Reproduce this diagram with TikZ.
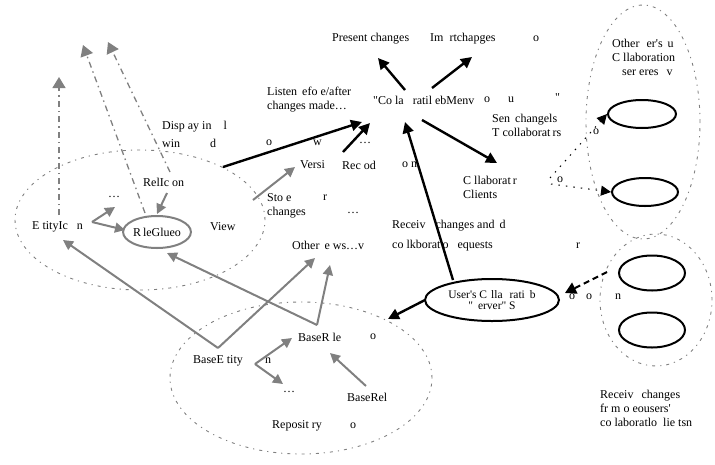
\documentclass[tikz,border=0pt]{standalone}
\usepackage{fontspec}
\setmainfont{Liberation Serif}[Ligatures=TeXOff]
\usetikzlibrary{arrows.meta,shapes.geometric}
\newcommand{\sq}{\symbol{34}}

\begin{document}
\begin{tikzpicture}[x=1pt,y=-1pt,
  lbl/.style={anchor=west, inner sep=0pt, font=\fontsize{12}{13}\selectfont},
  mlbl/.style={lbl, align=left, font=\fontsize{12}{14}\selectfont},
  blk/.style={black, line width=2.4pt, -{Triangle[length=11pt,width=11pt]}},
  gry/.style={draw=gray, line width=2pt, -{Triangle[length=10pt,width=10pt]}, gray},
  grpoval/.style={ellipse, draw=gray, line width=0.9pt, inner sep=0pt,
    dash pattern=on 3pt off 5pt on 1.2pt off 5pt},
  uparrow/.style={gray, line width=1.3pt, dash pattern=on 6pt off 4pt on 1.5pt off 4pt,
    -{Triangle[length=11pt,width=13pt]}},
  ring/.style={ellipse, draw=black, line width=2pt, inner sep=0pt},
  gring/.style={ellipse, draw=gray, line width=2pt, inner sep=0pt},
  dotarr/.style={black, line width=1pt, dash pattern=on 1.5pt off 6pt,
    -{Triangle[length=10pt,width=10pt]}},
  dasharr/.style={black, line width=2pt, dash pattern=on 6pt off 4pt,
    -{Triangle[length=11pt,width=12pt]}}
]
\useasboundingbox (0,0) rectangle (715,464);

% ---------- group outlines ----------
\node[grpoval, minimum width=250pt, minimum height=140pt] (viewgrp) at (140,220) {};
\node[grpoval, minimum width=262pt, minimum height=152pt] (repogrp) at (301,378) {};
\node[grpoval, minimum width=114pt, minimum height=234pt] (othersrv) at (643,122) {};
\node[grpoval, minimum width=112pt, minimum height=132pt] (othercli) at (656,300) {};

% ---------- rings ----------
\node[ring, minimum width=68pt, minimum height=28pt] (ringA) at (642,114) {};
\node[ring, minimum width=66pt, minimum height=28pt] (ringB) at (645,192) {};
\node[ring, minimum width=66pt, minimum height=35pt] (ringC) at (652,273) {};
\node[ring, minimum width=66pt, minimum height=35pt] (ringD) at (652,330) {};

\node[ring, minimum width=134pt, minimum height=42pt, align=center,
      font=\fontsize{11.5}{11.5}\selectfont] (server) at (492,300)
  {User's C\hspace{4pt}lla\hspace{7pt}rati\hspace{5pt}b\\\sq\hspace{5pt}erver\sq{} S};
\node[gring, minimum width=62pt, minimum height=32pt,
      font=\fontsize{12}{13}\selectfont] (glue) at (157,232) {R\hspace{2pt}leGlueo};

% ---------- labels ----------
\node[lbl] (present) at (332,39) {Present changes};
\node[lbl] (import) at (430,39) {Im\hspace{6pt}rtchapges};
\node[lbl] (importo) at (533,39) {o};

\node[mlbl] (listen) at (267,100) {Listen\hspace{5pt}efo e/after\\changes made\ldots};
\node[lbl] (menu) at (373,100) {\sq{}Co la\hspace{9pt}ratil ebMenv};
\node[lbl] (menuo) at (484,100) {o};
\node[lbl] (menuu) at (508,100) {u};
\node[lbl] (menuq) at (555,98) {\sq};

\node[mlbl] (send) at (492,125) {Sen\hspace{5pt}changels\\T\hspace{3pt}collaborat\hspace{2pt}rs};
\node[lbl] (sendo) at (593,132) {o};
\node[mlbl] (clients) at (463,187) {C\hspace{3pt}llaborat\hspace{2pt}r\\Clients};
\node[lbl] (clio) at (557,180) {o};

\node[mlbl] (othhead) at (612,57) {Other\hspace{7pt}er's\hspace{5pt}u\\C\hspace{3pt}llaboration\\\hspace{10pt}ser\hspace{3pt}eres\hspace{8pt}v};

\node[lbl] (disp1) at (162,127) {Disp ay in\hspace{12pt}l};
\node[lbl] (disp2) at (162,143) {win\hspace{30pt}d};
\node[lbl] (disp3) at (266,143) {o};
\node[lbl] (disp4) at (313,143) {w};
\node[lbl] (disp5) at (359,143) {\ldots};

\node[lbl] (relicon) at (143,182) {RelIc on};
\node[lbl] (vdots) at (108,197) {\ldots};
\node[lbl] (enticon) at (32,227) {E tityIc\hspace{9pt}n};
\node[lbl] (view) at (210,227) {View};

\node[lbl] (versi) at (300,165) {Versi};
\node[lbl] (record) at (342,165) {Rec od};
\node[lbl] (recon) at (402,165) {o n};

\node[lbl] (store) at (267,198) {Sto e};
\node[lbl] (storer) at (323,198) {r};
\node[lbl] (storech) at (267,213) {changes};
\node[lbl] (stored) at (347,213) {\ldots};
\node[lbl] (otherv) at (292,245) {Other\hspace{5pt}e ws\ldots v};

\node[lbl] (recv1) at (392,226) {Receiv\hspace{10pt}changes and\hspace{5pt}d};
\node[lbl] (recv2) at (392,246) {co lkborat\hspace{2pt}o\hspace{9pt}equests};
\node[lbl] (recvr) at (576,246) {r};

\node[lbl] (srvo1) at (569,297) {o};
\node[lbl] (srvo2) at (586,297) {o};
\node[lbl] (srvn) at (615,297) {n};

\node[lbl] (brole) at (298,337) {BaseR le};
\node[lbl] (broleo) at (370,337) {o};
\node[lbl] (bent) at (193,361) {BaseE tity};
\node[lbl] (bentn) at (265,361) {n};
\node[lbl] (bdots) at (283,392) {\ldots};
\node[lbl] (brel) at (347,397) {BaseRel};
\node[lbl] (repo) at (272,426) {Reposit ry};
\node[lbl] (repoo) at (350,426) {o};

\node[mlbl] (recvcli) at (600,408) {Receiv\hspace{8pt}changes\\fr m o eousers'\\co laboratlo\hspace{6pt}lie tsn};

% ---------- connector end points ----------
\coordinate (menuA) at (405,90);
\coordinate (menuB) at (432,88);
\coordinate (menuC) at (422,120);
\coordinate (presTip) at (378,58);
\coordinate (impTip) at (472,57);
\coordinate (dispOut) at (223,167);
\coordinate (menuIn1) at (362,122);
\coordinate (verOut) at (343,152);
\coordinate (menuIn2) at (370,123);
\coordinate (cliTip) at (497,163);
\coordinate (srvTop) at (453,280);
\coordinate (menuIn3) at (405,122);
\coordinate (srvLeft) at (425,300);
\coordinate (repoTip) at (388,319);
\coordinate (cliOut1) at (550,178);
\coordinate (cliOut2) at (551,184);
\coordinate (bgrpOut) at (607,272);
\coordinate (srvTip) at (565,293);

\coordinate (eiOut) at (92,222);
\coordinate (vdotsTip) at (115,207);
\coordinate (glueIn) at (125,230);
\coordinate (relOut) at (167,193);
\coordinate (glueTop) at (157,214);
\coordinate (storeOut) at (253,200);
\coordinate (verTip) at (295,167);
\coordinate (bentUp) at (218,348);
\coordinate (eiTip) at (63,240);
\coordinate (othTip1) at (315,258);
\coordinate (broleUp) at (317,325);
\coordinate (glueTip) at (167,253);
\coordinate (othTip2) at (330,265);
\coordinate (bentOut) at (255,364);
\coordinate (broleTip) at (292,338);
\coordinate (bdotsTip) at (283,384);
\coordinate (brelOut) at (366,386);
\coordinate (brelTip) at (330,353);

\coordinate (upA0) at (59,215);
\coordinate (upA1) at (59,77);
\coordinate (upB0) at (145,213);
\coordinate (upB1) at (83,45);
\coordinate (upC0) at (170,172);
\coordinate (upC1) at (108,42);

% ---------- black connectors ----------
\draw[blk] (menuA) -- (presTip);
\draw[blk] (menuB) -- (impTip);
\draw[blk] (dispOut) -- (menuIn1);
\draw[blk] (verOut) -- (menuIn2);
\draw[blk] (menuC) -- (cliTip);
\draw[blk] (srvTop) -- (menuIn3);
\draw[blk] (srvLeft) -- (repoTip);

\draw[dotarr] (cliOut1) -- (ringA.west);
\draw[dotarr] (cliOut2) -- (ringB.west);
\draw[dasharr] (bgrpOut) -- (srvTip);

% ---------- gray connectors ----------
\draw[gry] (eiOut) -- (vdotsTip);
\draw[gry] (eiOut) -- (glueIn);
\draw[gry] (relOut) -- (glueTop);
\draw[gry] (storeOut) -- (verTip);
\draw[gry] (bentUp) -- (eiTip);
\draw[gry] (bentUp) -- (othTip1);
\draw[gry] (broleUp) -- (glueTip);
\draw[gry] (broleUp) -- (othTip2);
\draw[gry] (bentOut) -- (broleTip);
\draw[gry] (bentOut) -- (bdotsTip);
\draw[gry] (brelOut) -- (brelTip);

\draw[uparrow] (upA0) -- (upA1);
\draw[uparrow] (upB0) -- (upB1);
\draw[uparrow] (upC0) -- (upC1);
\end{tikzpicture}
\end{document}
